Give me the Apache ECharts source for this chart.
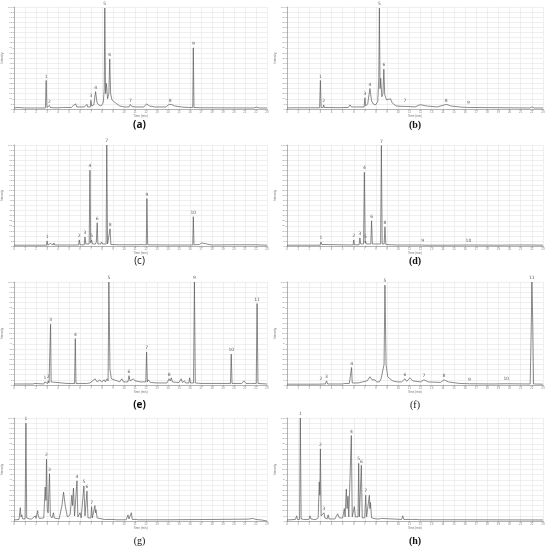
<!DOCTYPE html>
<html><head><meta charset="utf-8">
<script src="https://cdn.jsdelivr.net/npm/echarts@6/dist/echarts.min.js"></script>
<style>html,body{margin:0;padding:0;background:#fff}#c{width:549px;height:550px}</style>
</head><body><div id="c"></div>
<script>
// ---- data (time axis units 0..23, response 0..100) ----
const xTicks = [0,1,2,3,4,5,6,7,8,9,10,11,12,13,14,15,16,17,18,19,20,21,22,23];
const yTicks = [0,5,10,15,20,25,30,35,40,45,50,55,60,65,70,75,80,85,90,95,100];
const panelLetters = ['(a)','(b)','(c)','(d)','(e)','(f)','(g)','(h)'];

const chromA = [[0,1],[0.35,1.5],[0.45,1],[0.95,1],[1.0,1.8],[1.1,1],[1.85,1],[1.9,2],[2.0,1],
[2.85,1],[2.92,28],[2.99,1.5],[3.15,1.5],[3.22,3.5],[3.3,1.5],[3.55,1.2],[3.62,2.5],[3.7,1.2],
[4.1,1.2],[4.2,2.5],[4.3,1.5],[4.5,1.5],[4.6,3],[4.7,1.5],[5.2,1.5],[5.4,3.5],[5.5,2.5],[5.6,5],[5.7,2],
[6.2,2],[6.3,3.5],[6.4,2],[6.55,2],[6.62,4.5],[6.7,2],[6.93,2],[6.99,8.5],[7.06,3],[7.25,4],[7.41,17],[7.55,6],
[7.7,4],[7.8,5.5],[7.9,3],[8.05,5],[8.12,7],[8.2,20],[8.25,99],[8.32,15],[8.4,25],[8.5,10],[8.62,15],[8.7,49],
[8.78,15],[8.9,9],[9.1,7],[9.2,8.5],[9.35,5],[9.45,5],[9.6,3],[10.0,2],[10.45,2],[10.57,4.5],[10.7,2.5],[11.0,2],
[11.8,2],[12.05,5],[12.3,3],[12.8,2],[13.8,2],[14.1,4.5],[14.3,4.5],[14.6,3],[15.2,2],[15.85,1.5],[15.92,2.5],
[16.0,1.5],[16.25,1.5],[16.3,60],[16.36,1.5],[17,1.2],[21.8,1],[22.05,1.8],[22.3,1],[23,1]];
const peaksA = [[2.92,28,'1'],[3.22,3.5,'2'],[6.99,8.5,'3'],[7.41,17,'4'],[8.25,99,'5'],[8.7,49,'6'],[10.57,4.5,'7'],[14.2,4.5,'8'],[16.3,60,'9']];

const chromB = [[0,1],[0.4,1.2],[1.9,1.2],[2.0,1.8],[2.1,1.2],[2.93,1.2],[3.0,28],[3.07,1.5],[3.25,1.5],[3.3,4],[3.36,1.5],
[4.5,1.3],[4.6,3],[4.7,1.3],[5.5,1.5],[5.66,4],[5.8,2],[6.25,2],[6.35,3.5],[6.45,2],[6.93,2],[7.0,11],[7.07,3],[7.25,5],
[7.45,20],[7.6,8],[7.75,5],[7.85,6],[7.95,4],[8.15,7],[8.25,30],[8.3,99],[8.36,20],[8.42,30],[8.52,12],[8.62,15],[8.7,39],
[8.78,14],[8.95,9],[9.3,10],[9.45,6],[9.8,3],[10.45,2.5],[10.6,4],[10.75,2.5],[11.5,2],[11.9,4],[12.1,4],[12.5,3],[13.5,2],
[14.15,4],[14.35,4.5],[14.7,3],[15.5,2],[16.2,1.5],[16.3,2],[16.4,1.5],[21.8,1],[22,2],[22.2,1],[23,1]];
const peaksB = [[3.0,28,'1'],[3.3,4,'2'],[7.0,11,'3'],[7.45,20,'4'],[8.3,99,'5'],[8.7,39,'6'],[10.6,4,'7'],[14.3,4.5,'8'],[16.3,2,'9']];

const chromC = [[0,0.8],[1.8,0.8],[1.9,1.8],[2.0,0.8],[2.95,0.8],[3.0,5],[3.07,1],[3.25,1],[3.3,2.5],[3.38,1],[3.55,1],[3.62,3],
[3.7,1],[5.0,1],[5.1,1.8],[5.2,1],[5.87,1],[5.93,6],[6.0,1.2],[6.38,1.2],[6.45,9],[6.52,2],[6.83,2],[6.9,75],[6.97,3],[7.05,6],
[7.12,2],[7.4,2],[7.48,4],[7.52,2.5],[7.56,23],[7.62,2],[7.88,2],[7.95,4],[8.05,2],[8.37,2],[8.43,100],[8.5,2],[8.66,2],[8.73,17],
[8.8,1.5],[9.6,1.2],[9.76,2.5],[9.9,1.2],[11.3,1.2],[11.45,2.5],[11.6,1.5],[11.7,2.5],[11.8,1.2],[12.02,1.2],[12.08,47],[12.15,1.2],
[14.2,1],[14.3,1.8],[14.4,1],[15.8,1],[15.9,2.5],[16.0,1],[16.25,1],[16.3,29],[16.36,1.2],[16.85,1.5],[16.95,3],[17.05,3],[17.15,1.2],
[18,1],[20,1.2],[22,1.2],[23,0.8]];
const peaksC = [[3.0,5,'1'],[5.93,6,'2'],[6.45,9,'3'],[6.9,75,'4'],[7.05,6,'5'],[7.56,23,'6'],[8.43,100,'7'],[8.73,17,'8'],[12.08,47,'9'],[16.3,29,'10']];

const chromD = [[0,0.8],[2.98,0.8],[3.05,4],[3.12,1.5],[3.2,1],[5.94,1],[6.0,6],[6.06,1.2],[6.48,1.2],[6.55,8],[6.62,2],[6.88,2],
[6.95,73],[7.02,3],[7.05,5],[7.12,2],[7.53,2],[7.6,25],[7.67,2],[7.93,2],[8.0,3.5],[8.07,2],[8.41,2],[8.48,99.5],[8.55,2],[8.73,2],
[8.8,19],[8.88,1.5],[9.4,1.2],[9.55,1.5],[9.8,1],[12.1,1],[12.2,1.5],[12.3,0.8],[14.2,0.8],[14.3,1.2],[14.4,0.8],[16.3,1],[19,0.8],
[20.5,1],[22,1],[23,0.8]];
const peaksD = [[3.05,4,'1'],[6.0,6,'2'],[6.55,8,'3'],[6.95,73,'4'],[7.05,5,'5'],[7.6,25,'6'],[8.48,99.5,'7'],[8.8,19,'8'],[12.2,1.5,'9'],[16.3,1,'10']];

const chromE = [[0,1],[0.3,1],[0.4,2],[0.5,1],[1.7,1],[1.8,2],[1.9,1.5],[2.0,1],[2.7,1],[2.8,3],[2.9,1.5],[3.05,1.5],[3.1,4],
[3.18,2],[3.26,2],[3.32,59],[3.37,3],[3.42,4],[3.5,1.5],[4.8,1.5],[4.9,2],[5.0,1.5],[5.5,1.5],[5.57,45],[5.63,1.5],[6.6,1.5],
[6.7,2],[6.9,2],[7.37,6],[7.55,3],[7.8,5],[7.95,3],[8.2,5],[8.3,3],[8.45,6],[8.55,4],[8.62,100],[8.72,15],[8.85,6],[9.1,5],
[9.4,4],[9.6,3],[9.8,6],[9.95,3],[10.35,3],[10.45,9],[10.55,4],[10.85,6],[11.0,4],[11.5,3],[11.98,3],[12.05,32],[12.12,3],
[12.2,5],[12.4,2.5],[13,2],[13.9,2],[14.1,6],[14.2,4],[14.3,7],[14.4,3],[14.8,2.5],[14.9,4],[15.0,2.5],[15.15,2.5],[15.2,6],
[15.3,2.5],[15.45,2],[15.5,4],[15.6,2],[15.9,2],[15.96,7],[16.05,2],[16.32,2],[16.4,100],[16.48,2],[17,1.5],[19.68,1.5],
[19.75,30],[19.82,1.5],[20.7,1.5],[20.9,4],[21.1,1.5],[21.4,1.5],[21.5,2],[21.6,1.5],[22.02,1.5],[22.1,79],[22.18,1.5],[23,1]];
const peaksE = [[2.8,3,'1'],[3.1,4,'2'],[3.32,59,'3'],[5.57,45,'4'],[8.62,100,'5'],[10.45,9,'6'],[12.05,32,'7'],[14.1,6,'8'],[16.4,100,'9'],[19.75,30,'10'],[22.1,79,'11']];

const chromF = [[0,0.8],[2.9,0.8],[3.05,2],[3.15,1],[3.45,1],[3.55,4],[3.65,1],[5.0,1],[5.2,1.5],[5.6,1.5],[5.66,3],[5.72,2],
[5.8,17],[5.86,2],[6.4,2],[7.2,4],[7.45,8],[7.65,5],[7.9,5],[8.05,3],[8.3,3],[8.45,6],[8.55,5],[8.72,20],[8.8,97],[8.9,20],
[9.05,8],[9.25,6],[9.5,4],[9.9,3],[10.3,3],[10.6,6],[10.75,3.5],[11.05,7],[11.3,4],[12.0,3],[12.3,5],[12.7,3],[13.8,2.5],
[14.1,5],[14.5,3],[15.5,1.5],[16.4,1.2],[18.5,1],[19.6,1.2],[19.7,2],[19.8,1.2],[21.85,1],[21.95,60],[22.0,100],[22.08,60],
[22.15,1],[23,0.8]];
const peaksF = [[3.05,2,'2'],[3.55,4,'3'],[5.8,17,'4'],[8.8,97,'5'],[10.6,6,'6'],[12.3,5,'7'],[14.1,5,'8'],[16.4,1.2,'9'],[19.7,2,'10'],[22.0,100,'11']];

const chromG = [[0,1],[0.45,1.5],[0.57,13],[0.63,4],[0.7,6],[0.78,2],[1.0,2],[1.08,95],[1.15,3],[1.4,2],[1.6,2],[1.75,1.5],
[1.93,5],[2.0,2.5],[2.14,10],[2.2,5],[2.3,2.5],[2.7,3],[2.83,33],[2.9,20],[2.95,60],[3.02,10],[3.1,8],[3.22,46],[3.3,5],
[3.45,3],[3.58,8],[3.65,3],[4.1,2],[4.35,15],[4.5,28],[4.65,15],[4.85,4],[5.0,3],[5.1,6],[5.18,6],[5.25,25],[5.32,15],[5.4,32],
[5.5,5],[5.65,5],[5.72,39],[5.8,4],[6.0,8],[6.1,3],[6.28,3],[6.35,34],[6.45,5],[6.55,5],[6.63,29],[6.72,3],[6.98,3],[7.05,14],
[7.12,3],[7.25,4],[7.35,15],[7.4,8],[7.45,11],[7.55,3],[8.0,2],[8.1,3],[8.2,1.5],[9.0,1.5],[9.15,2],[9.3,1.2],[10.2,1.2],
[10.36,6],[10.45,2],[10.58,2],[10.66,8],[10.75,1.5],[11.1,1.5],[11.2,2.5],[11.3,1.2],[14,1.2],[18,1.5],[21.3,1.8],[21.7,2.5],
[22.0,1.5],[22.5,1],[23,0]];
const peaksG = [[1.08,95,'1'],[2.95,60,'2'],[3.22,46,'3'],[5.72,39,'4'],[6.35,34,'5'],[6.63,29,'6'],[7.05,14,'7']];

const chromH = [[0,1],[0.75,1.5],[0.87,5],[0.95,1.5],[1.13,1.5],[1.2,100],[1.27,2],[1.5,1.5],[1.95,1.5],[2.07,5],[2.15,2],
[2.4,1.5],[2.5,3],[2.6,1.5],[2.8,3],[2.9,38],[2.95,25],[3.0,70],[3.07,5],[3.2,4],[3.32,8],[3.4,3],[3.6,2],[3.7,6],[3.78,2],
[4.3,2],[4.55,7],[4.7,3],[5.0,3],[5.15,12],[5.22,4],[5.33,31],[5.4,12],[5.48,24],[5.55,4],[5.7,4],[5.78,83],[5.86,4],[5.95,5],
[6.05,14],[6.15,4],[6.38,4],[6.44,56],[6.5,4],[6.6,4],[6.68,54],[6.76,3],[6.98,3],[7.07,25],[7.15,4],[7.3,5],[7.4,25],[7.45,12],
[7.5,18],[7.6,3],[8.0,2],[8.15,3],[8.3,2],[8.45,2],[8.5,2.5],[8.6,1.5],[10.3,1.5],[10.4,5],[10.5,1.5],[11.1,1.5],[11.2,2],
[11.3,1.5],[11.7,1.5],[11.8,2],[11.9,1.2],[15,1.2],[23,1]];
const peaksH = [[1.2,100,'1'],[3.0,70,'2'],[3.32,8,'3'],[5.78,83,'4'],[6.44,56,'5'],[6.68,54,'6'],[7.07,25,'7']];

const chroms = [chromA,chromB,chromC,chromD,chromE,chromF,chromG,chromH];
const peaks = [peaksA,peaksB,peaksC,peaksD,peaksE,peaksF,peaksG,peaksH];

// ---- layout ----
const cols = [{l:12,w:255},{l:287,w:256}];
const rows = [{t:7,b:109,lab:125},{t:145,b:246,lab:261},{t:282,b:385,lab:405},{t:418,b:521,lab:541}];
const letterBold = [true,true,false,true,true,false,false,true];
const letterFont = ['Open Sans','Liberation Serif','Open Sans','Liberation Serif','Open Sans','Liberation Serif','Liberation Serif','Liberation Serif'];

const grid=[],xAxis=[],yAxis=[],series=[],graphic=[];
for(let i=0;i<8;i++){
  const c=cols[i%2], r=rows[Math.floor(i/2)];
  grid.push({left:c.l,top:r.t,width:c.w,height:r.b-r.t});
  xAxis.push({type:'value',gridIndex:i,min:xTicks[0],max:xTicks[xTicks.length-1],interval:1,
    name:'Time (min)',nameLocation:'middle',nameGap:5,nameTextStyle:{fontSize:3,color:'#777'},
    axisLine:{lineStyle:{color:'#888',width:0.6}},axisTick:{length:1.5,lineStyle:{color:'#888',width:0.5}},
    axisLabel:{fontSize:3,color:'#888',margin:2},
    splitLine:{show:true,lineStyle:{color:'#e4e4e4',width:0.6}}});
  yAxis.push({type:'value',gridIndex:i,min:yTicks[0],max:yTicks[yTicks.length-1],interval:5,
    name:'Intensity',nameLocation:'middle',nameGap:9,nameRotate:90,nameTextStyle:{fontSize:3,color:'#777'},
    axisLine:{show:true,lineStyle:{color:'#888',width:0.6}},axisTick:{show:true,length:1.5,lineStyle:{color:'#888',width:0.5}},
    axisLabel:{fontSize:2.5,color:'#888',margin:2},
    splitLine:{show:true,lineStyle:{color:'#e4e4e4',width:0.6}}});
  series.push({type:'line',xAxisIndex:i,yAxisIndex:i,data:chroms[i],showSymbol:false,symbol:'none',
    lineStyle:{color:'#5a5a5a',width:0.7},animation:false,silent:true});
  series.push({type:'scatter',xAxisIndex:i,yAxisIndex:i,data:peaks[i].map(p=>({value:[p[0],p[1]],name:p[2]})),
    symbolSize:0.1,itemStyle:{color:'rgba(0,0,0,0)'},clip:false,animation:false,silent:true,
    label:{show:true,position:'top',distance:1.5,formatter:p=>p.name,fontSize:4.5,color:'#333',fontFamily:'DejaVu Sans'}});
  graphic.push({type:'text',x:c.l+c.w/2,y:r.lab,style:{text:panelLetters[i],
    font:(letterBold[i]?'bold ':'')+'10px "'+letterFont[i]+'"',fill:'#111',textAlign:'center',textVerticalAlign:'middle'}});
}
const chart = echarts.init(document.getElementById('c'),null,{renderer:'canvas'});
chart.setOption({animation:false,backgroundColor:'#fff',grid,xAxis,yAxis,series,graphic});
</script></body></html>
